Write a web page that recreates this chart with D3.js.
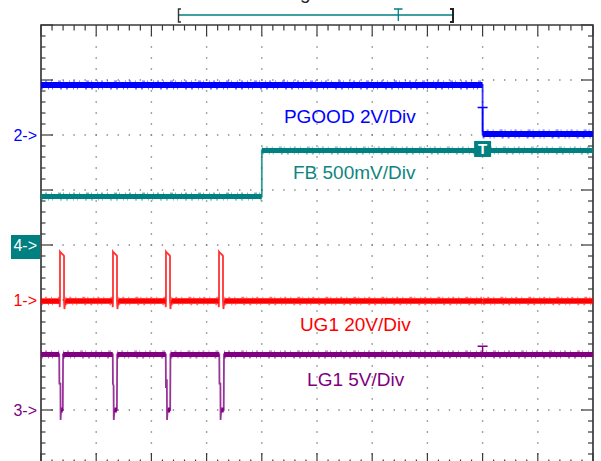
<!DOCTYPE html>
<html>
<head>
<meta charset="utf-8">
<title>PGOOD / FB / UG1 / LG1 capture</title>
<script src="https://d3js.org/d3.v7.min.js"></script>
<style>
  body { margin: 0; background: #fff; }
  svg { display: block; font-family: "Liberation Sans", Arial, sans-serif; }
  .frame { stroke: #3a3a3a; stroke-width: 1.7; fill: none; }
  .tick { stroke: #3a3a3a; stroke-width: 1.2; }
  .dot { fill: #7d7d7d; }
  .label { font-size: 19px; }
  .ref { font-size: 16px; }
</style>
</head>
<body>
<div id="scope"></div>
<script>
// traces: [time in divisions, volts]
const pgood = [[0, 1.82], [8.0, 1.82], [8.0, 0.04], [10, 0.04]];
const fb = [[0, 0.44], [4.0, 0.44], [4.0, 0.86], [10, 0.86]];
const ug1 = [
  [0, -0.4], [0.335, -0.4], [0.34, -2.6], [0.344, -0.4], [0.344, 17.6], [0.36, 17.2], [0.41, 16.2], [0.417, 16.0], [0.417, -0.4], [0.425, -3.3], [0.44, -0.4],
  [1.296, -0.4], [1.30, -2.6], [1.304, -0.4], [1.304, 17.6], [1.32, 17.2], [1.37, 16.2], [1.377, 16.0], [1.377, -0.4], [1.385, -3.3], [1.40, -0.4],
  [2.256, -0.4], [2.26, -2.6], [2.264, -0.4], [2.264, 17.6], [2.28, 17.2], [2.33, 16.2], [2.337, 16.0], [2.337, -0.4], [2.345, -3.3], [2.36, -0.4],
  [3.217, -0.4], [3.221, -2.6], [3.225, -0.4], [3.225, 17.6], [3.24, 17.2], [3.29, 16.2], [3.297, 16.0], [3.297, -0.4], [3.305, -3.3], [3.32, -0.4],
  [7.99, -0.4], [8.0, 0.5], [8.006, -1.4], [8.012, -0.4], [10, -0.4]
];
const lg1 = [
  [0, 5.05], [0.33, 5.05], [0.333, 2.4], [0.352, 2.4], [0.355, -0.9], [0.365, 0], [0.395, 0], [0.40, 5.05],
  [1.30, 5.05], [1.303, 2.4], [1.315, 2.2], [1.318, -0.9], [1.33, 0], [1.375, 0], [1.38, 5.05],
  [2.26, 5.05], [2.263, 2.0], [2.28, 2.8], [2.283, -0.9], [2.295, 0], [2.34, 0], [2.345, 5.05],
  [3.23, 5.05], [3.233, 2.4], [3.25, 2.4], [3.253, -0.9], [3.265, 0], [3.31, 0], [3.315, 5.05],
  [10, 5.05]
];

const channelNames = ["PGOOD", "FB", "UG1", "LG1"];
const scaleTexts = ["2V/Div", "500mV/Div", "20V/Div", "5V/Div"];
const voltsPerDiv = [2, 0.5, 20, 5];
const refNumbers = ["2", "4", "1", "3"];
const traces = [pgood, fb, ug1, lg1];

const trigTime = 8;
const trigMarks = [{ ch: 0, v: 1.0 }, { ch: 3, v: 5.8 }];

// look of each channel (ref = marker position in divisions from top)
const looks = [
  { color: "#0000ff", text: "#0000ff", ref: 2, band: 6, labelAt: [4.40, 1.78] },
  { color: "#008080", text: "#10857f", ref: 4, band: 5, labelAt: [4.565, 2.8] },
  { color: "#ff0000", text: "#ff0000", ref: 5, band: 5.5, labelAt: [4.69, 5.564] },
  { color: "#800080", text: "#800080", ref: 7, band: 5, labelAt: [4.82, 6.564] }
];

const svg = d3.select("#scope").append("svg")
  .attr("width", 601)
  .attr("height", 461);

const x = d3.scaleLinear().domain([0, 10]).range([41, 593]);
const yDiv = d3.scaleLinear().domain([0, 8]).range([25, 465]);
const yOf = (i, v) => yDiv(looks[i].ref - v / voltsPerDiv[i]);

// dotted graticule
const grid = svg.append("g");
for (let j = 1; j < 8; j++) {
  for (let k = 1; k < 50; k++) {
    grid.append("rect").attr("class", "dot")
      .attr("x", x(k / 5) - 0.7).attr("y", yDiv(j) - 0.7)
      .attr("width", 1.4).attr("height", 1.4);
  }
}
for (let i = 1; i < 10; i++) {
  for (let k = 1; k < 40; k++) {
    grid.append("rect").attr("class", "dot")
      .attr("x", x(i) - 0.7).attr("y", yDiv(k / 5) - 0.7)
      .attr("width", 1.4).attr("height", 1.4);
  }
}

// border ticks
const ticks = svg.append("g");
for (let k = 0; k <= 50; k++) {
  const major = k % 5 === 0;
  ticks.append("line").attr("class", "tick")
    .attr("x1", x(k / 5)).attr("x2", x(k / 5))
    .attr("y1", 25).attr("y2", 25 + (major ? 11 : 5.5));
  ticks.append("line").attr("class", "tick")
    .attr("x1", x(k / 5)).attr("x2", x(k / 5))
    .attr("y1", 465).attr("y2", 465 - (major ? 12 : 5.5));
}
for (let k = 0; k <= 40; k++) {
  const major = k % 5 === 0;
  ticks.append("line").attr("class", "tick")
    .attr("x1", 41).attr("x2", 41 + (major ? 12 : 4.5))
    .attr("y1", yDiv(k / 5)).attr("y2", yDiv(k / 5));
  ticks.append("line").attr("class", "tick")
    .attr("x1", 593).attr("x2", 593 - (major ? 12 : 5))
    .attr("y1", yDiv(k / 5)).attr("y2", yDiv(k / 5));
}
svg.append("path").attr("class", "frame")
  .attr("d", `M41,465V25H593V465`);

// traces
const fuzz = ["1,3,2,4,1,6,3,2,1,5", "2,5,1,3,1,7,2,4"];
traces.forEach((data, i) => {
  const lk = looks[i];
  const g = svg.append("g");
  const line = d3.line().x(d => x(d[0])).y(d => yOf(i, d[1]));
  g.append("path").attr("d", line(data))
    .attr("fill", "none").attr("stroke", lk.color)
    .attr("stroke-width", 1.8).attr("stroke-opacity", 0.8);
  for (let n = 1; n < data.length; n++) {
    const a = data[n - 1], b = data[n];
    if (a[1] !== b[1] || b[0] - a[0] < 0.02) continue;
    const yy = yOf(i, a[1]);
    g.append("line")
      .attr("x1", x(a[0])).attr("x2", x(b[0]))
      .attr("y1", yy).attr("y2", yy)
      .attr("stroke", lk.color).attr("stroke-width", lk.band);
    if (b[0] - a[0] < 0.2) continue;
    [-1, 1].forEach((s, m) => {
      g.append("line")
        .attr("x1", x(a[0])).attr("x2", x(b[0]))
        .attr("y1", yy + s * (lk.band / 2 + 0.8)).attr("y2", yy + s * (lk.band / 2 + 0.8))
        .attr("stroke", lk.color).attr("stroke-width", 1.4)
        .attr("stroke-opacity", 0.55)
        .attr("stroke-dasharray", fuzz[m]);
    });
  }
});

// trigger "T" marks on traces
trigMarks.forEach(t => {
  const xx = x(trigTime), yy = yOf(t.ch, t.v);
  const last = traces[t.ch][traces[t.ch].length - 1][1];
  svg.append("path")
    .attr("d", `M${xx - 5},${yy}H${xx + 5}M${xx},${yy}V${yOf(t.ch, last) - 2}`)
    .attr("fill", "none").attr("stroke", looks[t.ch].color).attr("stroke-width", 1.5);
});

// trigger badge on FB
const bx = x(trigTime), by = yOf(1, 0.873);
svg.append("rect").attr("x", bx - 8.5).attr("y", by - 8).attr("width", 17).attr("height", 16)
  .attr("fill", "#008080");
svg.append("text").attr("x", bx).attr("y", by + 5.5).attr("text-anchor", "middle")
  .attr("fill", "#fff").attr("font-size", 15).attr("font-weight", "bold").text("T");

// channel labels
channelNames.forEach((nm, i) => {
  const lk = looks[i];
  svg.append("text").attr("class", "label")
    .attr("x", x(lk.labelAt[0])).attr("y", yDiv(lk.labelAt[1]))
    .attr("fill", lk.text)
    .text(nm + " " + scaleTexts[i]);
});

// reference markers at left
refNumbers.forEach((r, i) => {
  const lk = looks[i];
  const yy = yDiv(lk.ref);
  if (r === "4") {
    svg.append("rect").attr("x", 11).attr("y", yy - 10).attr("width", 29).attr("height", 24)
      .attr("fill", "#008080");
  }
  svg.append("text").attr("class", "ref")
    .attr("x", 37).attr("y", yy + 6).attr("text-anchor", "end")
    .attr("fill", r === "4" ? "#fff" : lk.color)
    .text(r + "->");
});

// record overview bar at top
const overview = svg.append("g");
overview.append("line").attr("x1", 179).attr("x2", 452).attr("y1", 15).attr("y2", 15)
  .attr("stroke", "#008080").attr("stroke-width", 1.3);
overview.append("path").attr("d", "M181,9H178.5V22H181").attr("fill", "none")
  .attr("stroke", "#333").attr("stroke-width", 1.4);
overview.append("path").attr("d", "M450,9H453V22H450").attr("fill", "none")
  .attr("stroke", "#222").attr("stroke-width", 2);
overview.append("path").attr("d", "M394,9H402.5M398.3,9V21").attr("fill", "none")
  .attr("stroke", "#008080").attr("stroke-width", 1.3);
svg.append("text").attr("x", 300).attr("y", -1).attr("font-size", 19)
  .attr("fill", "#222").text("g");
</script>
</body>
</html>
